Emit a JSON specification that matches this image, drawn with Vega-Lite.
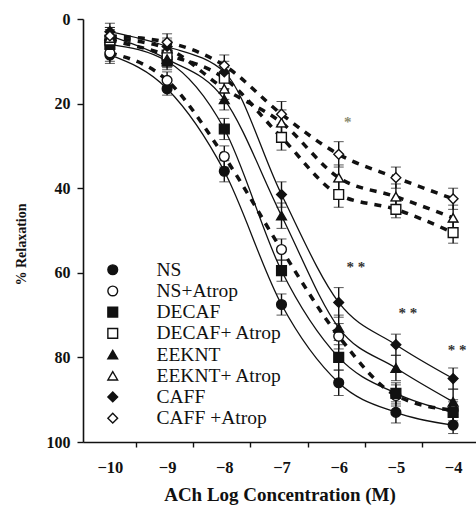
{
  "$schema": "https://vega.github.io/schema/vega-lite/v6.json",
  "width": 393,
  "height": 423,
  "autosize": {"type": "none"},
  "padding": {"left": 83, "top": 19, "right": 0, "bottom": 79},
  "background": "white",
  "config": {
    "view": {"stroke": null},
    "font": "Liberation Serif",
    "axis": {"domainColor": "#111", "tickColor": "#111", "labelColor": "#111", "titleColor": "#111", "grid": false, "domainWidth": 1.6, "tickWidth": 1.4},
    "legend": {
      "title": null, "orient": "none", "legendX": 20, "legendY": 241,
      "labelFontSize": 19.5, "labelFont": "Liberation Serif", "labelColor": "#111",
      "labelOffset": 34, "rowPadding": 0.2, "symbolSize": 95, "symbolStrokeWidth": 1.4,
      "symbolStrokeColor": "#111", "padding": 0
    }
  },
  "datasets": {
    "pts": [
      {"series": "NS", "x": -10, "y": 8.5, "err": 2},
      {"series": "NS", "x": -9, "y": 16.5, "err": 1.5},
      {"series": "NS", "x": -8, "y": 36, "err": 2.5},
      {"series": "NS", "x": -7, "y": 67.5, "err": 2.5},
      {"series": "NS", "x": -6, "y": 86, "err": 3},
      {"series": "NS", "x": -5, "y": 93, "err": 2.5},
      {"series": "NS", "x": -4, "y": 96, "err": 2},
      {"series": "NS+Atrop", "x": -10, "y": 8, "err": 2},
      {"series": "NS+Atrop", "x": -9, "y": 14.5, "err": 2},
      {"series": "NS+Atrop", "x": -8, "y": 32.5, "err": 2.5},
      {"series": "NS+Atrop", "x": -7, "y": 54.5, "err": 2.5},
      {"series": "NS+Atrop", "x": -6, "y": 75, "err": 3},
      {"series": "NS+Atrop", "x": -5, "y": 89, "err": 2.5},
      {"series": "NS+Atrop", "x": -4, "y": 92.5, "err": 2.5},
      {"series": "DECAF", "x": -10, "y": 6, "err": 2},
      {"series": "DECAF", "x": -9, "y": 10, "err": 2},
      {"series": "DECAF", "x": -8, "y": 26, "err": 2.5},
      {"series": "DECAF", "x": -7, "y": 59.5, "err": 2.5},
      {"series": "DECAF", "x": -6, "y": 80, "err": 3},
      {"series": "DECAF", "x": -5, "y": 88.5, "err": 2.5},
      {"series": "DECAF", "x": -4, "y": 93, "err": 2.5},
      {"series": "DECAF+ Atrop", "x": -10, "y": 5, "err": 2},
      {"series": "DECAF+ Atrop", "x": -9, "y": 8.5, "err": 2},
      {"series": "DECAF+ Atrop", "x": -8, "y": 14, "err": 2.5},
      {"series": "DECAF+ Atrop", "x": -7, "y": 28, "err": 3},
      {"series": "DECAF+ Atrop", "x": -6, "y": 41.5, "err": 3},
      {"series": "DECAF+ Atrop", "x": -5, "y": 45, "err": 2},
      {"series": "DECAF+ Atrop", "x": -4, "y": 50.5, "err": 2.5},
      {"series": "EEKNT", "x": -10, "y": 4, "err": 2},
      {"series": "EEKNT", "x": -9, "y": 9.5, "err": 2},
      {"series": "EEKNT", "x": -8, "y": 19, "err": 2.5},
      {"series": "EEKNT", "x": -7, "y": 46.5, "err": 3},
      {"series": "EEKNT", "x": -6, "y": 73, "err": 3},
      {"series": "EEKNT", "x": -5, "y": 82.5, "err": 3},
      {"series": "EEKNT", "x": -4, "y": 90.5, "err": 3},
      {"series": "EEKNT+ Atrop", "x": -10, "y": 4.5, "err": 2},
      {"series": "EEKNT+ Atrop", "x": -9, "y": 7, "err": 2},
      {"series": "EEKNT+ Atrop", "x": -8, "y": 16.5, "err": 2.5},
      {"series": "EEKNT+ Atrop", "x": -7, "y": 24.5, "err": 3},
      {"series": "EEKNT+ Atrop", "x": -6, "y": 37.5, "err": 3},
      {"series": "EEKNT+ Atrop", "x": -5, "y": 42, "err": 3},
      {"series": "EEKNT+ Atrop", "x": -4, "y": 47, "err": 3},
      {"series": "CAFF", "x": -10, "y": 3, "err": 2},
      {"series": "CAFF", "x": -9, "y": 6.5, "err": 2},
      {"series": "CAFF", "x": -8, "y": 12.5, "err": 2.5},
      {"series": "CAFF", "x": -7, "y": 41.5, "err": 3},
      {"series": "CAFF", "x": -6, "y": 67, "err": 3.5},
      {"series": "CAFF", "x": -5, "y": 77, "err": 2.5},
      {"series": "CAFF", "x": -4, "y": 85, "err": 2.5},
      {"series": "CAFF +Atrop", "x": -10, "y": 4, "err": 2},
      {"series": "CAFF +Atrop", "x": -9, "y": 5.5, "err": 2},
      {"series": "CAFF +Atrop", "x": -8, "y": 11, "err": 2.5},
      {"series": "CAFF +Atrop", "x": -7, "y": 22.5, "err": 3},
      {"series": "CAFF +Atrop", "x": -6, "y": 32, "err": 3},
      {"series": "CAFF +Atrop", "x": -5, "y": 37.5, "err": 2.5},
      {"series": "CAFF +Atrop", "x": -4, "y": 42.5, "err": 2.5}
    ],
    "notes": [
      {"x": -5.84, "y": 24.3, "label": "*", "kind": "a"},
      {"x": -5.7, "y": 58.6, "label": "* *", "kind": "b"},
      {"x": -4.79, "y": 69.5, "label": "* *", "kind": "b"},
      {"x": -3.93, "y": 78.3, "label": "* *", "kind": "b"}
    ]
  },
  "encoding": {
    "x": {
      "field": "x", "type": "quantitative",
      "scale": {"domain": [-10.47, -3.6], "nice": false, "zero": false},
      "axis": {
        "title": "ACh Log Concentration (M)",
        "values": [-10, -9, -8, -7, -6, -5, -4],
        "tickSize": 5, "tickOffset": 26, "labelOffset": -26,
        "labelFontSize": 16.5, "labelFontWeight": "bold", "labelPadding": 12,
        "titleFontSize": 19, "titleFontWeight": "bold", "titlePadding": 10
      }
    },
    "y": {
      "field": "y", "type": "quantitative",
      "scale": {"domain": [0, 100], "nice": false, "reverse": true},
      "axis": {
        "title": "% Relaxation",
        "values": [0, 20, 40, 60, 80, 100],
        "tickSize": 6, "labelPadding": 7,
        "labelFontSize": 16, "labelFontWeight": "bold",
        "titleFontSize": 14, "titleFontWeight": "bold",
        "titleX": -62, "titleY": 225, "titleBaseline": "middle", "titleAngle": -90
      }
    }
  },
  "layer": [
    {
      "data": {"name": "pts"},
      "transform": [{"filter": "indexof(datum.series, 'Atrop') < 0"}],
      "mark": {"type": "line", "interpolate": "monotone", "stroke": "#111", "strokeWidth": 1.3},
      "encoding": {"detail": {"field": "series"}}
    },
    {
      "data": {"name": "pts"},
      "transform": [{"filter": "indexof(datum.series, 'Atrop') >= 0"}],
      "mark": {"type": "line", "interpolate": "monotone", "stroke": "#111", "strokeWidth": 3.5, "strokeDash": [7, 7]},
      "encoding": {"detail": {"field": "series"}}
    },
    {
      "data": {"name": "pts"},
      "mark": {"type": "errorbar", "ticks": {"size": 10, "color": "#111", "strokeWidth": 1.4}, "rule": {"color": "#111", "strokeWidth": 1.4}},
      "encoding": {"yError": {"field": "err"}, "detail": {"field": "series"}}
    },
    {
      "data": {"name": "pts"},
      "mark": {"type": "point", "filled": true, "strokeWidth": 1.4, "size": 95, "opacity": 1},
      "encoding": {
        "shape": {
          "field": "series", "type": "nominal",
          "scale": {
            "domain": ["NS", "NS+Atrop", "DECAF", "DECAF+ Atrop", "EEKNT", "EEKNT+ Atrop", "CAFF", "CAFF +Atrop"],
            "range": ["circle", "circle", "square", "square", "triangle-up", "triangle-up", "diamond", "diamond"]
          }
        },
        "fill": {
          "field": "series", "type": "nominal",
          "scale": {
            "domain": ["NS", "NS+Atrop", "DECAF", "DECAF+ Atrop", "EEKNT", "EEKNT+ Atrop", "CAFF", "CAFF +Atrop"],
            "range": ["#111", "white", "#111", "white", "#111", "white", "#111", "white"]
          }
        },
        "stroke": {
          "field": "series", "type": "nominal",
          "scale": {
            "domain": ["NS", "NS+Atrop", "DECAF", "DECAF+ Atrop", "EEKNT", "EEKNT+ Atrop", "CAFF", "CAFF +Atrop"],
            "range": ["#111", "#111", "#111", "#111", "#111", "#111", "#111", "#111"]
          }
        }
      }
    },
    {
      "data": {"name": "notes"},
      "mark": {"type": "text", "fontSize": 15, "fontWeight": "bold", "baseline": "middle", "align": "center"},
      "encoding": {
        "text": {"field": "label"},
        "color": {"field": "kind", "type": "nominal", "scale": {"domain": ["a", "b"], "range": ["#8c8c70", "#333333"]}, "legend": null}
      }
    }
  ]
}
